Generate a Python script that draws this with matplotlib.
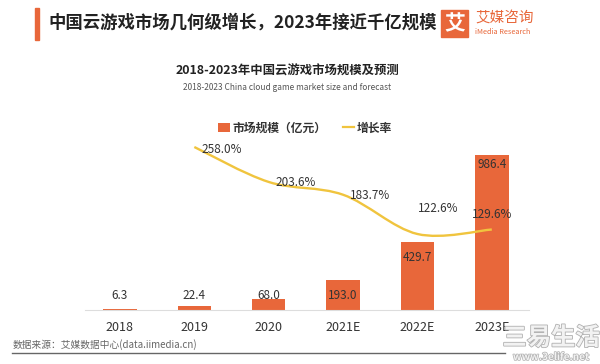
import matplotlib
matplotlib.use("Agg")
import matplotlib.pyplot as plt
from matplotlib.patches import Rectangle, Patch, PathPatch
from matplotlib.lines import Line2D
from matplotlib.path import Path
import matplotlib.patheffects as pe
import numpy as np

plt.rcParams['font.family'] = ['Noto Sans CJK SC', 'DejaVu Sans']

# ---- data ----
categories = ['2018', '2019', '2020', '2021E', '2022E', '2023E']
market_size = [6.3, 22.4, 68.0, 193.0, 429.7, 986.4]
growth_cats = ['2019', '2020', '2021E', '2022E', '2023E']
growth_rate = [258.0, 203.6, 183.7, 122.6, 129.6]
value_labels = ['6.3', '22.4', '68.0', '193.0', '429.7', '986.4']
growth_labels = ['258.0%', '203.6%', '183.7%', '122.6%', '129.6%']

# ---- styles / positions ----
BAR_COLOR = '#E8673A'
LINE_COLOR = '#F0C43E'
TEXT_DARK = '#333333'
bar_label_y = [95, 95, 95, 95, 331, 923]          # data-units position of bar labels
growth_offsets = [(27, -2), (27, -1), (27, -1), (21, 25), (0, 15)]  # pixels

fig = plt.figure(figsize=(6.0, 3.64), dpi=100)
fig.patch.set_facecolor('white')

ax = fig.add_axes([85/600, 54/364, 444/600, 170/364])
ax2 = ax.twinx()

x = np.arange(len(categories))
ax.bar(x, market_size, width=0.45, color=BAR_COLOR, zorder=2)
ax.set_xlim(-0.47, 5.5)
ax.set_ylim(0, 1082)
ax2.set_ylim(4.3, 268.9)

for i, (lab, yy) in enumerate(zip(value_labels, bar_label_y)):
    ax.text(x[i], yy, lab, ha='center', va='center', fontsize=8.5, color=TEXT_DARK, zorder=5)

# smooth growth line (Catmull-Rom style Bezier through the data points)
gx = np.array([categories.index(c) for c in growth_cats], dtype=float)
gy = np.array(growth_rate, dtype=float)
pts = np.column_stack([gx, gy])
verts = [tuple(pts[0])]
codes = [Path.MOVETO]
n = len(pts)
for i in range(n - 1):
    p0 = pts[i - 1] if i > 0 else pts[i]
    p1 = pts[i]
    p2 = pts[i + 1]
    p3 = pts[i + 2] if i + 2 < n else pts[i + 1]
    c1 = p1 + (p2 - p0) / 6.0
    c2 = p2 - (p3 - p1) / 6.0
    verts += [tuple(c1), tuple(c2), tuple(p2)]
    codes += [Path.CURVE4, Path.CURVE4, Path.CURVE4]
ax2.add_patch(PathPatch(Path(verts, codes), facecolor='none', edgecolor=LINE_COLOR,
                        lw=1.7, zorder=4, transform=ax2.transData))

for i, lab in enumerate(growth_labels):
    dx, dy = growth_offsets[i]
    ax2.annotate(lab, (gx[i], gy[i]), xytext=(dx, dy), textcoords='offset pixels',
                 ha='center', va='center', fontsize=8.5, color=TEXT_DARK, zorder=6)

for a in (ax, ax2):
    for s in ['top', 'right', 'left']:
        a.spines[s].set_visible(False)
    a.set_yticks([])
ax2.spines['bottom'].set_visible(False)
ax.spines['bottom'].set_color('#dddddd')
ax.spines['bottom'].set_linewidth(0.8)
ax.set_xticks(x)
ax.set_xticklabels(categories, fontsize=9, color=TEXT_DARK)
ax.tick_params(axis='x', length=0, pad=8)

# legend
handles = [Patch(facecolor=BAR_COLOR, edgecolor='none'),
           Line2D([0], [0], color=LINE_COLOR, lw=1.6)]
leg = fig.legend(handles, ['市场规模（亿元）', '增长率'], loc='center',
                 bbox_to_anchor=(305/600, 1 - 128/364), ncol=2, frameon=False,
                 fontsize=8.5, handlelength=1.0, handleheight=0.8, handletextpad=0.2,
                 columnspacing=1.4)
for t in leg.get_texts():
    t.set_color(TEXT_DARK)
    t.set_fontweight('bold')

# header
fig.patches.append(Rectangle((35/600, 1 - 40/364), 3.5/600, 32/364,
                             transform=fig.transFigure, color=BAR_COLOR, zorder=3))
fig.text(48/600, 1 - 23/364, '中国云游戏市场几何级增长，2023年接近千亿规模',
         fontsize=12.5, fontweight='bold', color='#222222', va='center', ha='left')
# logo
fig.patches.append(Rectangle((441/600, 1 - 37/364), 27/600, 27/364,
                             transform=fig.transFigure, color=BAR_COLOR, zorder=3))
fig.text(454.5/600, 1 - 23.5/364, '艾', fontsize=15, fontweight='bold', color='white',
         ha='center', va='center', zorder=4)
fig.text(475/600, 1 - 18/364, '艾媒咨询', fontsize=10.5, color=BAR_COLOR,
         ha='left', va='center')
fig.text(475/600, 1 - 32/364, 'iMedia Research', fontsize=5.3, color=BAR_COLOR,
         ha='left', va='center')

# chart title
fig.text(287/600, 1 - 71/364, '2018-2023年中国云游戏市场规模及预测', fontsize=8.9,
         fontweight='bold', color='#222222', ha='center', va='center')
fig.text(287/600, 1 - 88/364, '2018-2023 China cloud game market size and forecast',
         fontsize=6.0, color='#555555', ha='center', va='center')

# source
fig.text(13/600, 1 - 345/364, '数据来源：艾媒数据中心(data.iimedia.cn)', fontsize=7,
         color='#666666', ha='left', va='center')
fig.add_artist(Line2D([12/600, 505/600], [1 - 353/364, 1 - 353/364],
                      color='#666666', lw=1.0, transform=fig.transFigure))

# watermark
wm = fig.text(551/600, 1 - 338/364, '三易生活', fontsize=17.5, fontweight='bold',
              color='#f2f2f2', ha='center', va='center')
wm.set_path_effects([pe.withStroke(linewidth=1.2, foreground='#b0b0b0')])
wm2 = fig.text(551/600, 1 - 357/364, 'www.3elife.net', fontsize=7.2, fontweight='bold',
               color='#f2f2f2', ha='center', va='center')
wm2.set_path_effects([pe.withStroke(linewidth=1.0, foreground='#b0b0b0')])

fig.savefig('out.png', dpi=100, facecolor='white')
